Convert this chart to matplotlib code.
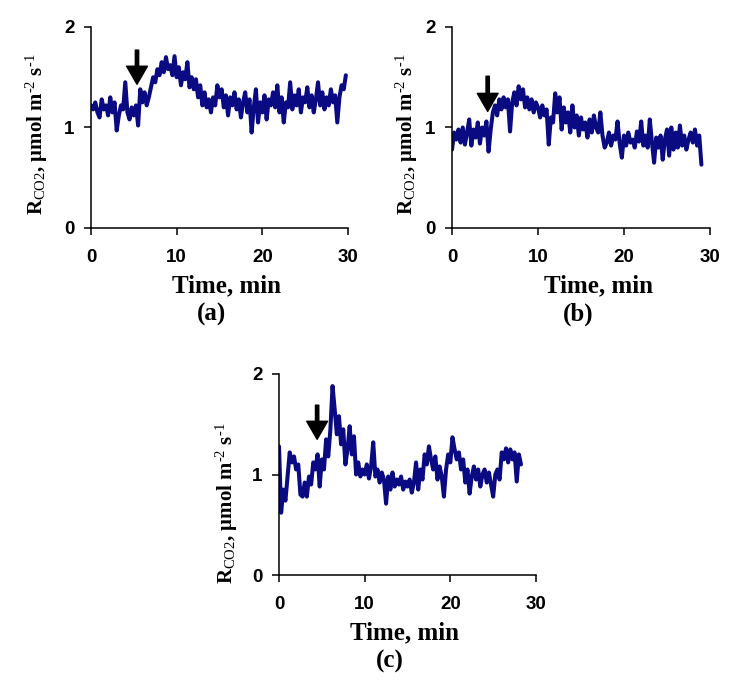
import numpy as np
import matplotlib
matplotlib.use("Agg")
import matplotlib.pyplot as plt

plt.rcParams["mathtext.fontset"] = "custom"
plt.rcParams["mathtext.rm"] = "Liberation Serif"
plt.rcParams["mathtext.it"] = "Liberation Serif:italic"
plt.rcParams["mathtext.bf"] = "Liberation Serif:bold"

# ---------------- data ----------------
step = 0.25
rco2_a = [
    1.22, 1.18, 1.25, 1.15,
    1.10, 1.28, 1.18, 1.22,
    1.12, 1.30, 1.15, 1.25,
    0.97, 1.12, 1.22, 1.18,
    1.45, 1.15, 1.08, 1.20,
    1.12, 1.22, 1.02, 1.38,
    1.25, 1.35, 1.22, 1.30,
    1.40, 1.50, 1.45, 1.58,
    1.52, 1.65, 1.55, 1.70,
    1.58, 1.62, 1.52, 1.71,
    1.50, 1.60, 1.42, 1.55,
    1.48, 1.65, 1.40, 1.50,
    1.38, 1.48, 1.30, 1.42,
    1.22, 1.35, 1.20, 1.28,
    1.15, 1.30, 1.22, 1.42,
    1.30, 1.38, 1.20, 1.32,
    1.12, 1.30, 1.22, 1.35,
    1.18, 1.28, 1.10, 1.25,
    1.35, 1.15, 1.28, 0.95,
    1.20, 1.38, 1.05, 1.25,
    1.15, 1.32, 1.08, 1.28,
    1.22, 1.35, 1.20, 1.42,
    1.15, 1.30, 1.05, 1.25,
    1.20, 1.45, 1.18, 1.32,
    1.22, 1.38, 1.15, 1.30,
    1.25, 1.40, 1.20, 1.32,
    1.15, 1.28, 1.45, 1.22,
    1.35, 1.18, 1.30, 1.22,
    1.38, 1.25, 1.32, 1.05,
    1.30, 1.42, 1.38, 1.52,
]
rco2_b = [
    0.78, 0.95, 0.88, 0.98,
    0.85, 1.00, 0.83, 0.95,
    1.08, 0.82, 0.98, 0.90,
    1.05, 0.84, 1.00, 0.92,
    1.06, 0.76, 0.98, 1.15,
    1.22, 1.12, 1.28, 1.18,
    1.30, 1.20, 1.28, 0.96,
    1.25, 1.35, 1.22, 1.41,
    1.28, 1.38, 1.20, 1.30,
    1.18, 1.28, 1.15, 1.25,
    1.20, 1.10, 1.22, 1.12,
    1.18, 0.83, 1.10, 1.05,
    1.34, 1.15, 1.30, 0.98,
    1.20, 1.05, 1.15, 0.95,
    1.22, 1.00, 1.12, 0.92,
    1.10, 0.98, 1.05, 0.90,
    1.08, 0.95, 1.12, 1.00,
    0.95, 1.15, 0.92, 0.80,
    0.85, 0.95, 0.82, 0.92,
    0.88, 1.06, 0.84, 0.70,
    0.92, 0.82, 0.95, 0.85,
    0.88, 0.80, 0.96, 0.86,
    1.06, 0.82, 0.92, 0.80,
    1.08, 0.85, 0.65, 0.90,
    0.80, 0.92, 0.68, 0.88,
    0.98, 0.72, 1.00, 0.78,
    0.95, 0.80, 1.02, 0.82,
    0.92, 0.78, 0.88, 0.95,
    0.85, 0.98, 0.82, 0.92,
    0.63,
]
rco2_c = [
    1.28, 0.62, 0.85, 0.74,
    0.98, 1.22, 1.12, 1.18,
    1.05, 1.10, 0.80, 0.78,
    0.92, 0.78, 0.98, 0.90,
    1.12, 1.05, 1.20, 0.88,
    1.15, 1.05, 1.35, 1.18,
    1.45, 1.88, 1.65, 1.40,
    1.58, 1.30, 1.45, 1.10,
    1.25, 1.48, 1.20, 1.38,
    1.00, 1.12, 0.98, 1.05,
    1.00, 1.10, 0.96, 1.08,
    1.32, 0.98, 1.05, 0.92,
    1.02, 0.95, 0.71, 0.98,
    0.85, 1.02, 0.88, 0.95,
    0.90, 0.98, 0.85, 0.93,
    0.88, 0.95, 0.82, 0.92,
    1.12, 0.85, 1.05, 0.95,
    1.20, 1.10, 1.28, 1.15,
    1.05, 1.18, 0.95, 1.08,
    0.98, 0.78, 1.05, 1.20,
    1.12, 1.37, 1.25, 1.15,
    1.22, 1.05, 1.15, 0.92,
    1.05, 0.81, 0.98, 1.08,
    0.95, 1.05, 0.88, 1.00,
    1.05, 0.92, 1.02, 0.90,
    0.78, 1.00, 1.05, 0.95,
    1.22, 1.15, 1.26, 1.12,
    1.25, 1.15, 1.22, 0.93,
    1.20, 1.10,
]
# arrow markers: (time, top value, tip value)
arrow_a = (5.37, 1.77, 1.43)
arrow_b = (4.15, 1.51, 1.16)
arrow_c = (4.45, 1.69, 1.35)

panel_labels = ["(a)", "(b)", "(c)"]
x_ticks = [0, 10, 20, 30]
y_ticks = [0, 1, 2]

# ---------------- figure ----------------
W, H = 736, 693
fig = plt.figure(figsize=(W / 100, H / 100), dpi=100)

LINE_COLOR = "#0a0a82"
SERIF = "Liberation Serif"
SANS = "Liberation Sans"

ylabel_txt = "R$_{\\mathrm{CO2}}$, μmol m$^{\\mathrm{\u20102}}$ s$^{\\mathrm{\u20101}}$"

def make_axes(left, top, right, bottom):
    return fig.add_axes([left / W, 1 - bottom / H, (right - left) / W, (bottom - top) / H])

specs = [
    dict(box=(91, 27, 348, 228), data=rco2_a, arrow=arrow_a, xl=227, pl=211, yl=43, ylc=134),
    dict(box=(452, 27, 710, 228), data=rco2_b, arrow=arrow_b, xl=599, pl=578, yl=413, ylc=134),
    dict(box=(279, 374, 536, 575), data=rco2_c, arrow=arrow_c, xl=404, pl=390, yl=233, ylc=503),
]

for spec, lab in zip(specs, panel_labels):
    l, t, r, b = spec["box"]
    ax = make_axes(l, t, r, b)
    vals = np.array(spec["data"])
    times = np.arange(len(vals)) * step
    ax.plot(times, vals, color=LINE_COLOR, lw=2.9, solid_joinstyle="round",
            solid_capstyle="round")
    ax.set_xlim(0, 30)
    ax.set_ylim(0, 2)
    ax.set_xticks(x_ticks)
    ax.set_yticks(y_ticks)
    for s in ["top", "right"]:
        ax.spines[s].set_visible(False)
    for s in ["left", "bottom"]:
        ax.spines[s].set_linewidth(1.1)
    ax.tick_params(axis="both", direction="out", length=5, width=1.1)
    ax.tick_params(axis="x", pad=10)
    ax.tick_params(axis="y", pad=7)
    for lbl in ax.get_xticklabels() + ax.get_yticklabels():
        lbl.set_fontfamily(SANS)
        lbl.set_fontweight("bold")
        lbl.set_fontsize(13.5)

    wpx = r - l
    hpx = b - t
    ax.set_xlabel("Time, min", fontsize=18, fontweight="bold", family=SERIF,
                  va="baseline", ha="center")
    ax.xaxis.set_label_coords((spec["xl"] - l) / wpx, (b - 292 - (t - 27)) / hpx)
    ax.set_ylabel(ylabel_txt, fontsize=15, fontweight="bold", family=SERIF,
                  va="baseline", ha="center")
    ax.yaxis.set_label_coords((spec["yl"] - l) / wpx, (b - spec["ylc"]) / hpx)
    ax.text((spec["pl"] - l) / wpx, (b - 314 - (t - 27)) / hpx, lab,
            transform=ax.transAxes, ha="center", va="center",
            fontsize=18, fontweight="bold", family=SERIF)

    at, atop, atip = spec["arrow"]
    ax.annotate("", xy=(at, atip), xytext=(at, atop),
                arrowprops=dict(facecolor="black", edgecolor="black", width=2.4,
                                headwidth=15, headlength=13, shrink=0))

fig.savefig("out.png", dpi=100)
